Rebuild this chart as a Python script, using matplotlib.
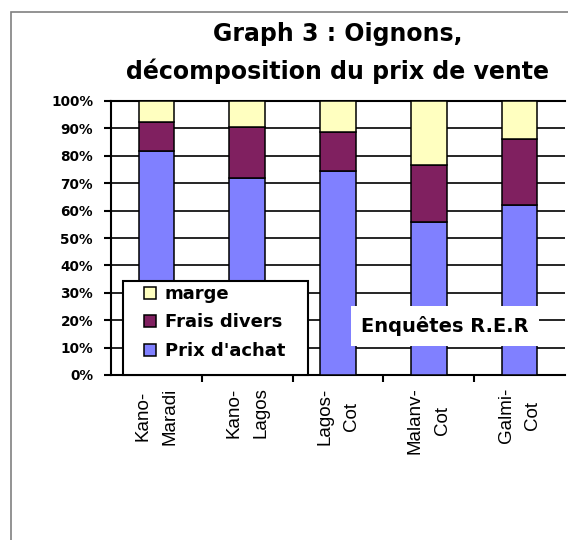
import matplotlib

matplotlib.use("Agg")
import matplotlib.pyplot as plt
import numpy as np
from matplotlib.lines import Line2D
from matplotlib.patches import Rectangle
from matplotlib.ticker import FixedLocator, FuncFormatter

# parts du prix de vente, en fraction du total
routes = ["Kano-\nMaradi", "Kano-\nLagos", "Lagos-\nCot", "Malanv-\nCot", "Galmi-\nCot"]
prix_achat = [0.818, 0.718, 0.746, 0.560, 0.620]
frais_divers = [0.104, 0.188, 0.142, 0.205, 0.241]
marge = [0.078, 0.094, 0.112, 0.235, 0.139]

couleurs = {"achat": "#8080FF", "frais": "#802060", "marge": "#FFFFC0"}

W, H = 568, 540
fig = plt.figure(figsize=(W / 100, H / 100), dpi=100)
fig.patch.set_facecolor("white")

# cadre gris du graphique
fig.patches.append(
    Rectangle((10.5 / W, -0.1), 1.2, 1.1 - 11.5 / H, transform=fig.transFigure,
              fill=False, edgecolor="#808080", linewidth=1.2, zorder=0)
)

ax = fig.add_axes([111 / W, 1 - 375 / H, (565 - 111) / W, (375 - 101) / H])

x = np.arange(len(routes))
largeur = 0.39
bas2 = np.array(prix_achat)
bas3 = bas2 + np.array(frais_divers)
kw = dict(width=largeur, edgecolor="black", linewidth=1.1, zorder=3)
ax.bar(x, prix_achat, color=couleurs["achat"], label="Prix d'achat", **kw)
ax.bar(x, frais_divers, bottom=bas2, color=couleurs["frais"], label="Frais divers", **kw)
ax.bar(x, marge, bottom=bas3, color=couleurs["marge"], label="marge", **kw)

ax.set_xlim(-0.5, len(routes) - 0.5)
ax.set_ylim(0, 1)
ax.yaxis.set_major_locator(FixedLocator(np.linspace(0, 1, 11)))
ax.yaxis.set_major_formatter(FuncFormatter(lambda v, _: f"{v * 100:.0f}%"))
ax.grid(axis="y", color="black", linewidth=1.2, zorder=1)
ax.set_axisbelow(True)

ax.set_xticks(x)
ax.set_xticklabels(routes, rotation=90, fontsize=13.5, family="Liberation Sans",
                   va="top", ha="center", multialignment="center", linespacing=1.75)
ax.xaxis.set_minor_locator(FixedLocator(np.arange(0.5, len(routes) - 0.5, 1)))
ax.tick_params(axis="x", which="major", length=0, pad=9)
ax.tick_params(axis="x", which="minor", length=5, width=1.5, direction="out")
ax.tick_params(axis="y", length=5, width=1.5, direction="out", pad=8)
for lab in ax.get_yticklabels():
    lab.set_fontsize(9.8)
    lab.set_fontweight("bold")

for cote in ["left", "bottom", "top"]:
    ax.spines[cote].set_linewidth(1.5)
    ax.spines[cote].set_color("black")
ax.spines["right"].set_visible(False)

# titre sur deux lignes, centré sur la zone de tracé
cx = (111 + 565) / 2 / W
fig.text(cx, 1 - 34 / H, "Graph 3 : Oignons,", ha="center", va="center",
         fontsize=17, fontweight="bold")
fig.text(cx, 1 - 71 / H, "décomposition du prix de vente", ha="center", va="center",
         fontsize=17, fontweight="bold")

# cadre de légende, posé sur les barres
cadre = Rectangle((123 / W, 1 - 375 / H), (308 - 123) / W, (375 - 281) / H,
                  transform=fig.transFigure, facecolor="white", edgecolor="black",
                  linewidth=1.5, zorder=4)
ax.add_artist(cadre)
cadre.set_clip_on(False)

# entrées de légende en ordre inversé (marge en haut)
poignees = [Line2D([], [], linestyle="none", marker="s", markersize=8,
                   markerfacecolor=couleurs[k], markeredgecolor="black",
                   markeredgewidth=1.1)
            for k in ["marge", "frais", "achat"]]
leg = ax.legend(poignees, ["marge", "Frais divers", "Prix d'achat"],
                loc="upper left", bbox_to_anchor=(133 / W, 1 - 285 / H),
                bbox_transform=fig.transFigure, borderaxespad=0, frameon=False,
                prop={"weight": "bold", "size": 13}, borderpad=0,
                handlelength=1.9, handletextpad=-0.15, labelspacing=0.58)
leg.set_zorder(5)

# étiquette de source dans une boîte blanche
ax.text(445 / W, 1 - 326 / H, "Enquêtes R.E.R", transform=fig.transFigure,
        ha="center", va="center", fontsize=14, fontweight="bold", zorder=6,
        bbox=dict(boxstyle="square,pad=0.5", facecolor="white", edgecolor="none"))

fig.savefig("out.png", dpi=100)
